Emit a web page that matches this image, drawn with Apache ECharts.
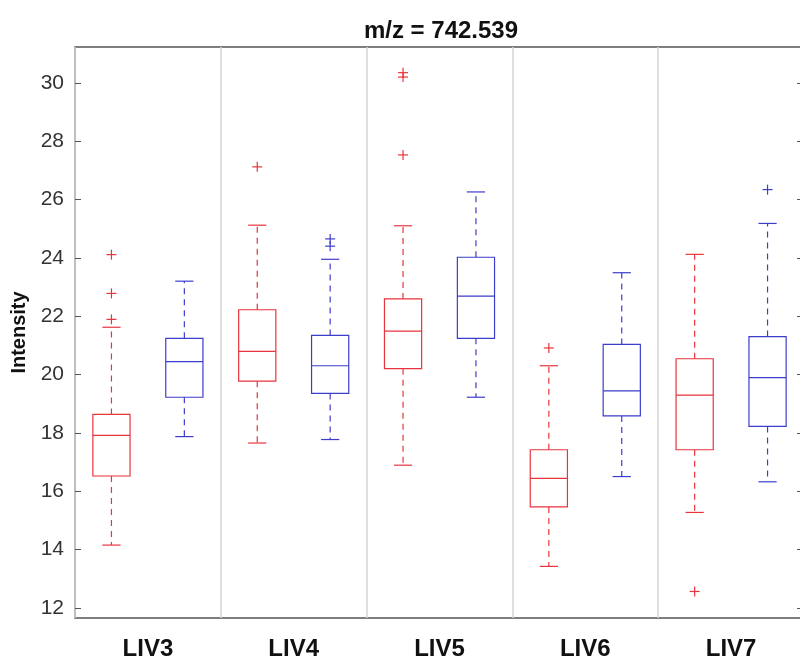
<!DOCTYPE html>
<html>
<head>
<meta charset="utf-8">
<title>m/z = 742.539</title>
<script src="https://cdn.jsdelivr.net/npm/echarts@6/dist/echarts.min.js"></script>
<style>
    html, body { margin: 0; padding: 0; background: #fff; }
    #boxplot_chart { width: 800px; height: 662px; }
</style>
</head>
<body>
<div id="boxplot_chart"></div>
<script>
// ------------------------------------------------------------------
// Data
// ------------------------------------------------------------------
var groups = ['LIV3', 'LIV4', 'LIV5', 'LIV6', 'LIV7'];
var slots = ['LIV3 r', 'LIV3 b', 'LIV4 r', 'LIV4 b', 'LIV5 r', 'LIV5 b', 'LIV6 r', 'LIV6 b', 'LIV7 r', 'LIV7 b'];
var yTicks = [12, 14, 16, 18, 20, 22, 24, 26, 28, 30];

// [lower whisker, Q1, median, Q3, upper whisker]
var redStats = [
    [14.15, 16.52, 17.91, 18.63, 21.62],
    [17.65, 19.77, 20.79, 22.22, 25.12],
    [16.89, 20.20, 21.49, 22.59, 25.10],
    [13.42, 15.46, 16.44, 17.42, 20.30],
    [15.27, 17.42, 19.29, 20.54, 24.12]
];
var blueStats = [
    [17.87, 19.22, 20.44, 21.24, 23.20],
    [17.77, 19.35, 20.30, 21.34, 23.95],
    [19.22, 21.24, 22.69, 24.02, 26.26],
    [16.50, 18.58, 19.44, 21.03, 23.49],
    [16.32, 18.22, 19.89, 21.30, 25.18]
];
var redOutliers = [[24.11, 22.78, 21.89], [27.12], [30.35, 30.20, 27.53], [20.91], [12.56]];
var blueOutliers = [[], [24.65, 24.40], [], [], [26.34]];

var RED = '#e8353d';
var BLUE = '#3d3dcc';

function EchartsBoxplot() {

    if (typeof echarts == 'undefined') {
        console.warn('Warning - echarts.min.js is not loaded.');
        return;
    }

    var chart_element = document.getElementById('boxplot_chart');
    var chart = echarts.init(chart_element);

    // build series data: [slot, lo, q1, med, q3, hi]
    function statsData(stats, offset) {
        return stats.map(function (s, i) {
            return [2 * i + offset].concat(s);
        });
    }
    function outlierData(list, offset) {
        var out = [];
        list.forEach(function (vals, i) {
            vals.forEach(function (v) { out.push([2 * i + offset, v]); });
        });
        return out;
    }

    // MATLAB style box: solid box + median, dashed whiskers, short solid caps
    function boxRenderer(color) {
        return function (params, api) {
            var slot = api.value(0);
            var band = api.size([1, 0])[0];
            var halfBox = band * 0.255;
            var halfCap = band * 0.125;
            var pLo = api.coord([slot, api.value(1)]);
            var pQ1 = api.coord([slot, api.value(2)]);
            var pMed = api.coord([slot, api.value(3)]);
            var pQ3 = api.coord([slot, api.value(4)]);
            var pHi = api.coord([slot, api.value(5)]);
            var cx = pMed[0];
            var solid = { stroke: color, lineWidth: 1.2, fill: null };
            var dashed = { stroke: color, lineWidth: 1.2, lineDash: [6, 5] };
            return {
                type: 'group',
                children: [
                    { type: 'line', shape: { x1: cx, y1: pQ3[1], x2: cx, y2: pHi[1] }, style: dashed },
                    { type: 'line', shape: { x1: cx, y1: pQ1[1], x2: cx, y2: pLo[1] }, style: dashed },
                    { type: 'line', shape: { x1: cx - halfCap, y1: pHi[1], x2: cx + halfCap, y2: pHi[1] }, style: solid },
                    { type: 'line', shape: { x1: cx - halfCap, y1: pLo[1], x2: cx + halfCap, y2: pLo[1] }, style: solid },
                    { type: 'rect', shape: { x: cx - halfBox, y: pQ3[1], width: 2 * halfBox, height: pQ1[1] - pQ3[1] }, style: solid },
                    { type: 'line', shape: { x1: cx - halfBox, y1: pMed[1], x2: cx + halfBox, y2: pMed[1] }, style: solid }
                ]
            };
        };
    }

    function plusRenderer(color) {
        return function (params, api) {
            var p = api.coord([api.value(0), api.value(1)]);
            var r = 5;
            var st = { stroke: color, lineWidth: 1.2 };
            return {
                type: 'group',
                children: [
                    { type: 'line', shape: { x1: p[0] - r, y1: p[1], x2: p[0] + r, y2: p[1] }, style: st },
                    { type: 'line', shape: { x1: p[0], y1: p[1] - r, x2: p[0], y2: p[1] + r }, style: st }
                ]
            };
        };
    }

    chart.setOption({
        animation: false,

        title: {
            text: 'm/z = 742.539',
            left: 436,
            top: 14,
            textAlign: 'center',
            textStyle: {
                color: '#111',
                fontSize: 24,
                fontWeight: 'bold',
                fontFamily: 'Liberation Sans, Arial, sans-serif'
            }
        },

        textStyle: {
            fontFamily: 'Liberation Sans, Arial, sans-serif'
        },

        grid: {
            left: 75,
            right: -4,
            top: 47,
            bottom: 44,
            containLabel: false,
            outerBoundsMode: 'none',
            show: true,
            borderColor: '#555',
            borderWidth: 1.5,
            backgroundColor: '#fff'
        },

        xAxis: [{
            // groups: labels + separator lines
            type: 'category',
            data: groups,
            boundaryGap: true,
            axisLine: { show: false },
            axisTick: { show: false },
            axisLabel: {
                color: '#111',
                fontSize: 24,
                fontWeight: 'bold',
                margin: 19
            },
            splitLine: {
                show: true,
                lineStyle: { color: '#d4d4d4', width: 1.5 }
            }
        }, {
            // one slot per box
            type: 'category',
            data: slots,
            boundaryGap: true,
            show: false
        }],

        yAxis: [{
            type: 'value',
            min: 11.65,
            max: 31.23,
            name: 'Intensity',
            nameLocation: 'middle',
            nameGap: 46,
            nameTextStyle: {
                color: '#111',
                fontSize: 20,
                fontWeight: 'bold'
            },
            axisLine: { show: false },
            axisTick: {
                show: true,
                inside: true,
                length: 6,
                customValues: yTicks,
                lineStyle: { color: '#555' }
            },
            axisLabel: {
                color: '#333',
                fontSize: 21,
                margin: 11,
                customValues: yTicks
            },
            splitLine: { show: false }
        }, {
            type: 'value',
            position: 'right',
            min: 11.65,
            max: 31.23,
            axisLine: { show: false },
            axisTick: {
                show: true,
                inside: true,
                length: 7,
                customValues: yTicks,
                lineStyle: { color: '#555' }
            },
            axisLabel: { show: false },
            splitLine: { show: false }
        }],

        series: [{
            name: 'red boxes',
            type: 'custom',
            xAxisIndex: 1,
            renderItem: boxRenderer(RED),
            encode: { x: 0, y: [1, 2, 3, 4, 5] },
            data: statsData(redStats, 0),
            silent: true,
            z: 3
        }, {
            name: 'blue boxes',
            type: 'custom',
            xAxisIndex: 1,
            renderItem: boxRenderer(BLUE),
            encode: { x: 0, y: [1, 2, 3, 4, 5] },
            data: statsData(blueStats, 1),
            silent: true,
            z: 3
        }, {
            name: 'red outliers',
            type: 'custom',
            xAxisIndex: 1,
            renderItem: plusRenderer(RED),
            encode: { x: 0, y: 1 },
            data: outlierData(redOutliers, 0),
            silent: true,
            z: 3
        }, {
            name: 'blue outliers',
            type: 'custom',
            xAxisIndex: 1,
            renderItem: plusRenderer(BLUE),
            encode: { x: 0, y: 1 },
            data: outlierData(blueOutliers, 1),
            silent: true,
            z: 3
        }]
    });
}

EchartsBoxplot();
</script>
</body>
</html>
